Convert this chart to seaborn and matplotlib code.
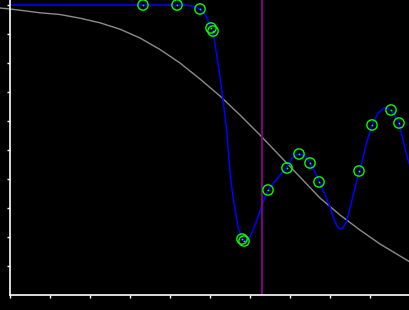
import matplotlib
matplotlib.use("Agg")
import matplotlib.pyplot as plt
import seaborn as sns
import pandas as pd

# Gray reference curve
gray_x = [-0.25, 0.0, 0.25, 0.75, 1.25, 1.75, 2.25, 2.75, 3.25, 3.75, 4.25, 4.75,
          5.25, 5.75, 6.25, 6.75, 7.25, 7.75, 8.25, 8.75, 9.25, 9.75, 10.0]
gray_y = [9.897, 9.862, 9.820, 9.731, 9.672, 9.545, 9.386, 9.166, 8.862, 8.466, 8.0, 7.448,
          6.862, 6.207, 5.517, 4.793, 4.069, 3.345, 2.759, 2.241, 1.759, 1.345, 1.138]

# Blue mean curve
blue_x = [0.0, 4.375, 4.575, 4.75, 4.9, 5.025, 5.1, 5.175, 5.25, 5.325, 5.425, 5.5,
          5.575, 5.7, 5.8, 5.875, 6.0, 6.175, 6.325, 6.45, 6.65, 6.9, 7.05, 7.125, 7.225,
          7.3, 7.375, 7.5, 7.625, 7.75, 7.875, 8.0, 8.125, 8.175, 8.25, 8.325, 8.425,
          8.5, 8.55, 8.675, 8.75, 8.9, 9.05, 9.2, 9.35, 9.425, 9.525, 9.725, 9.825,
          9.95, 10.0]
blue_y = [10.0, 10.0, 9.966, 9.862, 9.621, 9.241, 8.862, 8.207, 7.517, 6.724, 5.586, 4.207,
          3.379, 2.345, 1.966, 1.828, 2.0, 2.586, 3.207, 3.621, 3.966, 4.379, 4.724, 4.810, 4.862,
          4.845, 4.793, 4.552, 4.241, 3.862, 3.448, 3.034, 2.517, 2.379, 2.276, 2.310, 2.586,
          3.0, 3.276, 3.966, 4.31, 5.172, 5.862, 6.276, 6.448, 6.448, 6.379, 5.931, 5.345,
          4.655, 4.448]

# Observed samples (green markers)
obs_x = [3.325, 4.175, 4.75, 5.025, 5.075, 5.8, 5.85, 6.45, 6.925, 7.225, 7.5, 7.725,
         8.725, 9.05, 9.525, 9.725]
obs_y = [10.0, 10.0, 9.862, 9.207, 9.103, 1.931, 1.862, 3.621, 4.379, 4.862, 4.552, 3.897,
         4.276, 5.862, 6.379, 5.931]

# Vertical marker position
vline_x = 6.3

x_ticks = [0, 1, 2, 3, 4, 5, 6, 7, 8, 9, 10]
y_ticks = [1, 2, 3, 4, 5, 6, 7, 8, 9, 10]

sns.set_theme(style="ticks", rc={
    "axes.facecolor": "black",
    "figure.facecolor": "black",
    "axes.edgecolor": "white",
    "xtick.color": "white",
    "ytick.color": "white",
})

fig = plt.figure(figsize=(4.1, 3.1), dpi=100)
ax = fig.add_axes([10 / 410, 15 / 310, 400 / 410, 295 / 310])
ax.set_facecolor("black")

gray_df = pd.DataFrame({"x": gray_x, "y": gray_y})
blue_df = pd.DataFrame({"x": blue_x, "y": blue_y})
obs_df = pd.DataFrame({"x": obs_x, "y": obs_y})

sns.lineplot(data=gray_df, x="x", y="y", sort=False, color="#8c8c8c", lw=1.0, ax=ax,
             clip_on=False)
sns.lineplot(data=blue_df, x="x", y="y", sort=False, color="#0000ff", lw=1.1, ax=ax)
ax.axvline(vline_x, color="#8b008b", lw=1.3)
sns.scatterplot(data=obs_df, x="x", y="y", marker="o", s=55, facecolors="none",
                edgecolor="#00ff00", linewidth=1.0, ax=ax, zorder=5)
sns.scatterplot(data=obs_df, x="x", y="y", marker="o", s=1.5, color="#00ff00",
                linewidth=0, ax=ax, zorder=6)

ax.set_xlim(0, 10)
ax.set_ylim(0, 295 / 29)
ax.set_xticks(x_ticks)
ax.set_yticks(y_ticks)
ax.set_xticklabels([])
ax.set_yticklabels([])
ax.tick_params(length=2.5, width=1, direction="out")
ax.set_xlabel("")
ax.set_ylabel("")
for s in ["top", "right"]:
    ax.spines[s].set_visible(False)
for s in ["left", "bottom"]:
    ax.spines[s].set_color("white")
    ax.spines[s].set_linewidth(1.2)

fig.savefig("out.png", dpi=100, facecolor="black")
